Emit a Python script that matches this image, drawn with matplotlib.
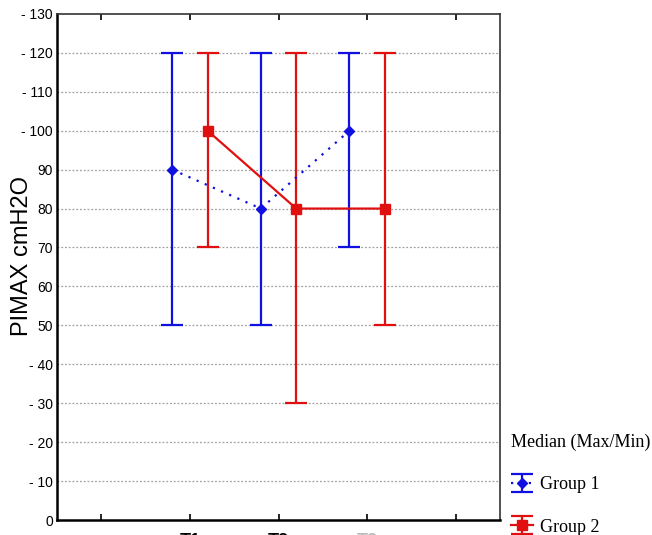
import matplotlib
matplotlib.use("Agg")
import matplotlib.pyplot as plt
import numpy as np

groups = ["Group 1", "Group 2"]
timepoints = ["T1", "T2", "T3"]
g1_median = [90, 80, 100]
g1_max = [120, 120, 120]
g1_min = [50, 50, 70]
g2_median = [100, 80, 80]
g2_max = [120, 120, 120]
g2_min = [70, 30, 50]
yticks = list(range(0, 131, 10))
dash_ticks = [10, 20, 30, 40, 100, 110, 120, 130]

tick_font = ["Liberation Sans Narrow", "DejaVu Sans Condensed", "Liberation Sans"]

fig = plt.figure(figsize=(6.52, 5.35), dpi=100)
ax = fig.add_axes([0.0874, 0.028, 0.6796, 0.946])

x = np.arange(2, 2 + len(timepoints))
off = 0.2

def eb(xs, med, mx, mn, color, ls, marker, ms, label):
    med = np.array(med); mx = np.array(mx); mn = np.array(mn)
    yerr = [med - mn, mx - med]
    return ax.errorbar(xs, med, yerr=yerr, color=color, linestyle=ls, lw=1.6,
                       marker=marker, markersize=ms, capsize=8, capthick=1.6,
                       elinewidth=1.6, label=label, zorder=3)

h1 = eb(x - off, g1_median, g1_max, g1_min, "#1010e0", (0, (1, 3)), "D", 5.5, groups[0])
h2 = eb(x + off, g2_median, g2_max, g2_min, "#e01010", "-", "s", 7, groups[1])

ax.set_xlim(0.5, 5.5)
ax.set_ylim(0, 130)
ax.set_xticks([1, 2, 3, 4, 5])
xl = ax.set_xticklabels(["", timepoints[0], timepoints[1], timepoints[2], ""],
                        fontsize=13, fontweight="bold", family=tick_font)
xl[3].set_color("#bbbbbb")
ax.tick_params(axis="x", direction="in", length=4, width=1.2, pad=9, top=True)
ax.set_yticks(yticks)
ax.set_yticklabels([("- " if v in dash_ticks else "") + str(v) for v in yticks],
                   fontsize=10, family=tick_font)
ax.tick_params(axis="y", direction="out", length=0, pad=3)

for v in yticks[1:-1]:
    ax.axhline(v, color="#a0a0a0", lw=0.9, linestyle=(0, (1.5, 1.5)), zorder=1)

for s in ["left", "bottom"]:
    ax.spines[s].set_linewidth(1.8)
for s in ["top", "right"]:
    ax.spines[s].set_linewidth(1.2)
    ax.spines[s].set_color("#333333")

ax.set_ylabel("PIMAX cmH2O", fontsize=17, family="Liberation Sans")
ax.yaxis.set_label_coords(-0.055, 0.522)

leg = fig.legend(handles=[h1, h2], labels=groups, loc="upper left",
                 bbox_to_anchor=(0.784, 0.189), frameon=False,
                 title="Median (Max/Min)",
                 prop={"family": "Liberation Serif", "size": 13},
                 title_fontproperties={"family": "Liberation Serif", "size": 13},
                 handlelength=1.2, handletextpad=0.4, labelspacing=1.4,
                 borderaxespad=0, borderpad=0)
leg._legend_box.align = "left"

fig.savefig("out.png", dpi=100)
